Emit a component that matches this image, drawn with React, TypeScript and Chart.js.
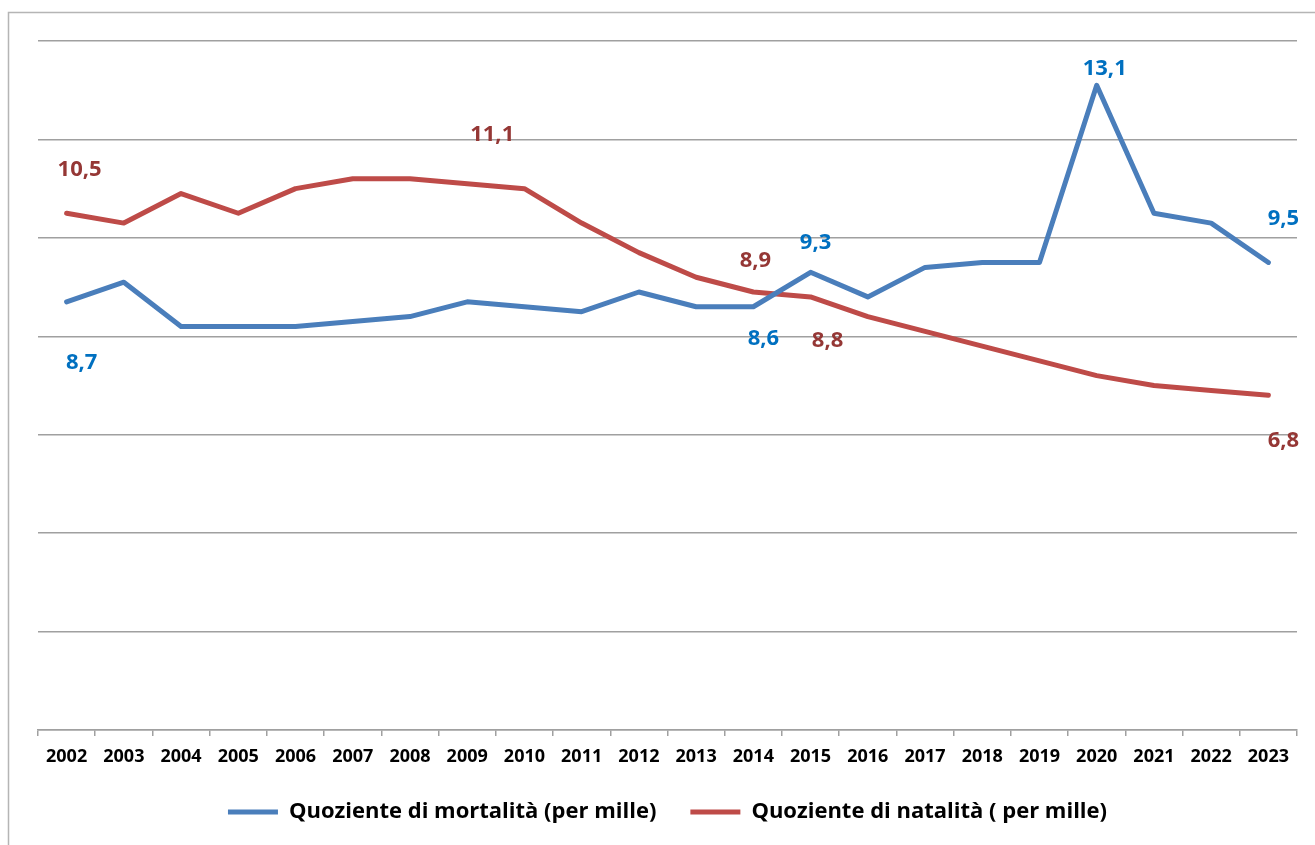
import React, { useEffect, useRef } from "react";
import { Chart, registerables } from "chart.js";

Chart.register(...registerables);

const years = [
  "2002", "2003", "2004", "2005", "2006", "2007", "2008", "2009", "2010", "2011", "2012",
  "2013", "2014", "2015", "2016", "2017", "2018", "2019", "2020", "2021", "2022", "2023",
];

const mortalita = [
  8.7, 9.1, 8.2, 8.2, 8.2, 8.3, 8.4, 8.7, 8.6, 8.5, 8.9,
  8.6, 8.6, 9.3, 8.8, 9.4, 9.5, 9.5, 13.1, 10.5, 10.3, 9.5,
];

const natalita = [
  10.5, 10.3, 10.9, 10.5, 11.0, 11.2, 11.2, 11.1, 11.0, 10.3, 9.7,
  9.2, 8.9, 8.8, 8.4, 8.1, 7.8, 7.5, 7.2, 7.0, 6.9, 6.8,
];

const seriesNames = ["Quoziente di mortalità (per mille)", "Quoziente di natalità ( per mille)"];

// indices of points that carry a value label
const mortalitaLabelIdx = [0, 12, 13, 18, 21];
const natalitaLabelIdx = [0, 7, 12, 13, 21];

const yMin = 0;
const yMax = 14;
const yStep = 2;

// label placement (pixel offsets from the point)
const labelOffsets = [
  [[15, 61], [10, 32], [5, -30], [8, -17], [15, -44]],
  [[13, -44], [25, -49], [2, -31], [17, 44], [15, 45]],
];
const labelColors = ["#0070C0", "#953735"];
const lineColors = ["#4A7EBB", "#BE4B48"];
const gridColor = "#a0a0a0";
const fontFamily = "'Open Sans'";

const fmt = (v: number) => v.toFixed(1).replace(".", ",");

const framePlugin = {
  id: "frame",
  beforeDraw(chart: any) {
    const ctx = chart.ctx;
    ctx.save();
    ctx.strokeStyle = "#b5b5b5";
    ctx.lineWidth = 1.5;
    ctx.beginPath();
    ctx.moveTo(8.5, chart.height);
    ctx.lineTo(8.5, 12.5);
    ctx.lineTo(chart.width, 12.5);
    ctx.stroke();
    ctx.restore();
  },
};

const dataLabelPlugin = {
  id: "valueLabels",
  afterDatasetsDraw(chart: any) {
    const ctx = chart.ctx;
    const idxLists = [mortalitaLabelIdx, natalitaLabelIdx];
    ctx.save();
    ctx.font = `bold 22px ${fontFamily}`;
    ctx.textAlign = "center";
    ctx.textBaseline = "middle";
    chart.data.datasets.forEach((ds: any, i: number) => {
      const meta = chart.getDatasetMeta(i);
      ctx.fillStyle = labelColors[i];
      idxLists[i].forEach((idx, k) => {
        const pt = meta.data[idx];
        if (!pt) return;
        const [dx, dy] = labelOffsets[i][k];
        ctx.fillText(fmt(ds.data[idx]), pt.x + dx, pt.y + dy);
      });
    });
    ctx.restore();
  },
};

export default function App() {
  const ref = useRef<HTMLCanvasElement | null>(null);

  useEffect(() => {
    if (!ref.current) return;
    const chart = new Chart(ref.current, {
      type: "line",
      data: {
        labels: years,
        datasets: [
          {
            label: seriesNames[0],
            data: mortalita,
            borderColor: lineColors[0],
            backgroundColor: lineColors[0],
            borderWidth: 5,
            borderCapStyle: "round",
            borderJoinStyle: "round",
            pointRadius: 0,
            tension: 0,
          },
          {
            label: seriesNames[1],
            data: natalita,
            borderColor: lineColors[1],
            backgroundColor: lineColors[1],
            borderWidth: 5,
            borderCapStyle: "round",
            borderJoinStyle: "round",
            pointRadius: 0,
            tension: 0,
          },
        ],
      },
      options: {
        animation: false,
        responsive: false,
        maintainAspectRatio: false,
        layout: { padding: { left: 38, right: 18, top: 41, bottom: 12 } },
        plugins: {
          legend: {
            position: "bottom",
            labels: {
              usePointStyle: true,
              pointStyle: "line",
              pointStyleWidth: 50,
              padding: 34,
              color: "#000",
              font: { family: fontFamily, size: 22, weight: "bold" },
            },
          },
          tooltip: { enabled: false },
        },
        scales: {
          x: {
            offset: true,
            grid: {
              offset: true,
              drawOnChartArea: false,
              color: gridColor,
              lineWidth: 1.5,
              tickLength: 6,
            },
            border: { color: gridColor, width: 1.5 },
            ticks: {
              color: "#000",
              padding: 10,
              maxRotation: 0,
              autoSkip: false,
              font: { family: fontFamily, size: 18, weight: "bold" },
            },
            afterFit(scale: any) {
              scale.height = 37;
            },
          },
          y: {
            min: yMin,
            max: yMax,
            ticks: { display: false, stepSize: yStep },
            grid: { color: gridColor, lineWidth: 1.5, drawTicks: false },
            border: { display: false },
            afterFit(scale: any) {
              scale.width = 0;
            },
          },
        },
      },
      plugins: [framePlugin, dataLabelPlugin],
    });
    return () => chart.destroy();
  }, []);

  return (
    <div style={{ position: "fixed", left: 0, top: 0, width: 1315, height: 845, background: "#fff" }}>
      <canvas ref={ref} width={1315} height={845} style={{ display: "block" }} />
    </div>
  );
}
